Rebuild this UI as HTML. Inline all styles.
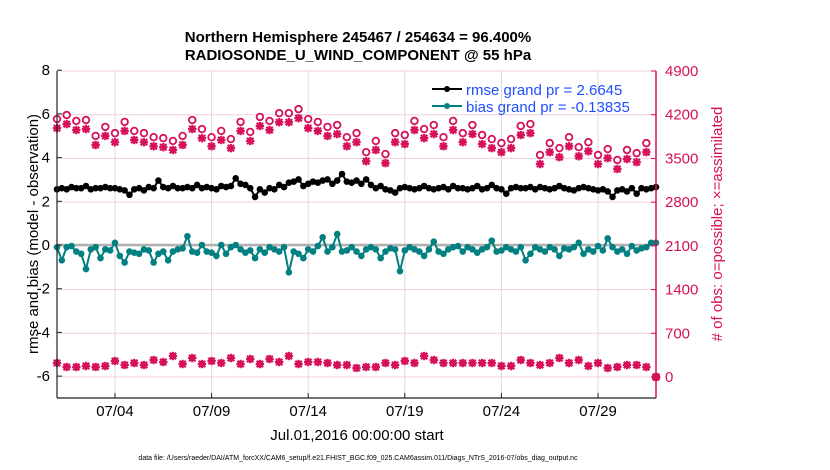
<!DOCTYPE html>
<html><head><meta charset="utf-8"><style>
body{margin:0;background:#fff;}
svg{display:block;font-family:"Liberation Sans",sans-serif;}
</style></head><body>
<svg id="chart" width="830" height="470" viewBox="0 0 830 470" xmlns="http://www.w3.org/2000/svg">
<rect width="830" height="470" fill="#fff"/>
<g id="grid"></g>
<g id="marks"></g>
<g id="axes"></g>
<text x="358" y="42" text-anchor="middle" font-size="15" font-weight="bold">Northern Hemisphere 245467 / 254634 = 96.400%</text>
<text x="358" y="60" text-anchor="middle" font-size="15" font-weight="bold">RADIOSONDE_U_WIND_COMPONENT @ 55 hPa</text>
<text transform="translate(38,234) rotate(-90)" text-anchor="middle" font-size="15">rmse and bias (model - observation)</text>
<text transform="translate(722,224) rotate(-90)" text-anchor="middle" font-size="15" fill="#d6105a"># of obs: o=possible; ×=assimilated</text>
<text x="357" y="440" text-anchor="middle" font-size="15">Jul.01,2016 00:00:00 start</text>
<text x="358" y="460" text-anchor="middle" font-size="7">data file: /Users/raeder/DAI/ATM_forcXX/CAM6_setup/f.e21.FHIST_BGC.f09_025.CAM6assim.011/Diags_NTrS_2016-07/obs_diag_output.nc</text>
<g>
  <line x1="432" y1="89" x2="462" y2="89" stroke="#000" stroke-width="2"/>
  <circle cx="447" cy="89" r="3" fill="#000"/>
  <text x="466" y="95" font-size="15" fill="#1f4fff">rmse grand pr = 2.6645</text>
  <line x1="432" y1="106" x2="462" y2="106" stroke="#008080" stroke-width="2"/>
  <circle cx="447" cy="106" r="3" fill="#008080"/>
  <text x="466" y="112" font-size="15" fill="#1f4fff">bias grand pr = -0.13835</text>
</g>
</svg>
<script>
const xTickLabels = ["07/04","07/09","07/14","07/19","07/24","07/29"];
const xTickDays = [3,8,13,18,23,28];
const leftTicks = [8,6,4,2,0,-2,-4,-6];
const rightTicks = [4900,4200,3500,2800,2100,1400,700,0];
const rmse = [2.55,2.6,2.55,2.65,2.6,2.6,2.7,2.55,2.6,2.6,
2.65,2.6,2.6,2.55,2.5,2.3,2.55,2.6,2.5,2.65,
2.6,2.95,2.65,2.6,2.7,2.6,2.6,2.65,2.6,2.75,
2.6,2.65,2.6,2.55,2.7,2.65,2.7,3.05,2.8,2.75,
2.6,2.2,2.55,2.4,2.6,2.55,2.75,2.65,2.85,2.9,
3.0,2.7,2.8,2.9,2.85,2.95,3.0,2.8,2.95,3.25,
2.9,2.85,2.95,2.8,3.0,2.75,2.6,2.7,2.55,2.5,
2.4,2.6,2.65,2.6,2.55,2.6,2.7,2.6,2.55,2.6,
2.65,2.55,2.7,2.6,2.6,2.55,2.6,2.7,2.55,2.6,
2.75,2.6,2.55,2.35,2.6,2.65,2.6,2.6,2.65,2.55,
2.65,2.6,2.55,2.6,2.7,2.6,2.55,2.5,2.6,2.65,
2.6,2.55,2.5,2.55,2.45,2.2,2.5,2.55,2.45,2.6,
2.35,2.6,2.55,2.6,2.65];
const bias = [-0.1,-0.7,-0.1,-0.05,-0.3,-0.4,-1.1,-0.2,-0.1,-0.6,
-0.2,-0.25,0.1,-0.5,-0.8,-0.3,-0.35,-0.4,-0.2,-0.25,
-0.8,-0.4,-0.3,-0.7,-0.3,-0.2,-0.15,0.4,-0.3,-0.35,
0.0,-0.3,-0.35,-0.5,0.0,-0.4,-0.1,0.0,-0.2,-0.35,
-0.25,-0.6,-0.2,-0.35,-0.1,-0.2,-0.3,-0.1,-1.25,-0.3,
-0.4,-0.6,-0.2,-0.3,-0.05,0.35,-0.3,-0.1,0.5,-0.3,
-0.25,-0.1,-0.3,-0.5,-0.2,-0.1,-0.2,-0.6,-0.3,-0.15,
-0.2,-1.2,-0.25,-0.1,-0.2,-0.3,-0.5,-0.2,0.15,-0.3,
-0.4,-0.2,-0.1,-0.05,-0.3,-0.1,-0.2,-0.35,-0.2,-0.1,
0.2,-0.3,-0.25,-0.1,-0.2,-0.3,-0.1,-0.7,-0.4,-0.1,
-0.2,-0.3,-0.1,-0.2,-0.5,-0.15,-0.2,-0.1,0.1,-0.4,
-0.2,-0.3,-0.05,-0.25,0.3,-0.1,-0.3,-0.2,-0.4,-0.05,
-0.25,-0.15,-0.1,0.1,0.1];
const possibleTop = [4130,4195,4100,4115,3860,4005,3905,4085,3940,3905,3840,3825,3780,3860,4115,3970,3840,3940,3810,4085,3925,4165,
4100,4225,4225,4290,4130,4085,4005,4035,3840,3905,3600,3780,3570,3905,3875,4100,3970,4035,3840,4100,
3905,4035,3875,3810,3745,3810,4020,4050,3555,3745,3665,3840,3680,3760,3555,3650,3475,3635,3585,3745,0];
const assimilatedTop = [3985,4050,3955,3970,3715,3860,3760,3940,3795,3760,3695,3680,3635,3715,3970,3825,3695,3795,3665,3940,3780,4020,
3955,4080,4080,4145,3985,3940,3860,3890,3695,3760,3455,3635,3425,3760,3730,3955,3825,3890,3695,3955,
3760,3890,3730,3665,3600,3665,3875,3905,3410,3600,3520,3695,3535,3615,3410,3505,3330,3490,3440,3600,0];
const bottomCounts = [224,160,160,176,160,176,256,192,224,192,272,240,336,208,304,208,256,224,304,208,288,208,288,240,336,208,240,240,224,192,192,
144,160,160,224,192,256,224,336,272,224,224,224,224,224,224,176,176,272,224,192,224,304,224,272,176,224,144,160,192,192,160,0];

const NS='http://www.w3.org/2000/svg';
const X0=57, X1=656, YT=71, YB=398;
const DAYS=31;
function xScale(d){return X0+(X1-X0)*d/DAYS;}
function yLeft(v){return 245 - v*21.85;}
function yRight(c){return 377 - c*306/4900;}
function mk(tag,attrs,parent){const e=document.createElementNS(NS,tag);for(const k in attrs)e.setAttribute(k,attrs[k]);parent.appendChild(e);return e;}
const grid=document.getElementById('grid'), marks=document.getElementById('marks'), axes=document.getElementById('axes');
const PINK='#d6105a', TEAL='#008080';

xTickDays.forEach((d,i)=>{const l=mk('line',{x1:xScale(d),x2:xScale(d),y1:YT,y2:YB,stroke:'#dcdcdc','stroke-width':1},grid);

});
rightTicks.forEach(c=>{const l=mk('line',{x1:X0,x2:X1,y1:yRight(c),y2:yRight(c),stroke:'#f2d0dc','stroke-width':1},grid);

});
const zl=mk('line',{x1:X0,x2:X1,y1:yLeft(0),y2:yLeft(0),stroke:'#b0b0b0','stroke-width':2.5},grid);



function series(vals,color,name,step){
  const pts=vals.map((v,i)=>xScale(i*step).toFixed(1)+','+yLeft(v).toFixed(1)).join(' ');
  const pl=mk('polyline',{points:pts,fill:'none',stroke:color,'stroke-width':2},marks);
  
  
  vals.forEach((v,i)=>{const c=mk('circle',{cx:xScale(i*step),cy:yLeft(v),r:3.3,fill:color},marks);
  
  });
}
function asterisk(x,y,name){
  const g=mk('g',{stroke:PINK,'stroke-width':2.2},marks);
  
  
  const r=4.2,q=3.2;
  mk('line',{x1:x-r,x2:x+r,y1:y,y2:y},g);
  mk('line',{x1:x,x2:x,y1:y-r,y2:y+r},g);
  mk('line',{x1:x-q,x2:x+q,y1:y-q,y2:y+q},g);
  mk('line',{x1:x-q,x2:x+q,y1:y+q,y2:y-q},g);
}
possibleTop.forEach((c,i)=>{const x=xScale(i*0.5);
  const o=mk('circle',{cx:x,cy:yRight(c),r:3.3,fill:'#fff',stroke:PINK,'stroke-width':1.8},marks);
  
  });
assimilatedTop.forEach((c,i)=>asterisk(xScale(i*0.5),yRight(c),'assimilated-obs-point'));
bottomCounts.forEach((c,i)=>{const x=xScale(i*0.5);
  const o=mk('circle',{cx:x,cy:yRight(c),r:2.5,fill:PINK,stroke:PINK,'stroke-width':1.5},marks);
  
  
  asterisk(x,yRight(c),'bottom-assimilated-point');});
series(rmse,'#000','rmse',0.25);
series(bias,TEAL,'bias',0.25);

const la=mk('line',{x1:X0,x2:X0,y1:YT,y2:YB,stroke:'#222','stroke-width':1.2},axes);


const ba=mk('line',{x1:X0,x2:X1,y1:YB,y2:YB,stroke:'#222','stroke-width':1.2},axes);


const ra=mk('line',{x1:X1,x2:X1,y1:YT,y2:YB,stroke:PINK,'stroke-width':1.5},axes);


leftTicks.forEach(v=>{const y=yLeft(v);
  mk('line',{x1:X0,x2:X0+5,y1:y,y2:y,stroke:'#222'},axes);
  const t=mk('text',{x:X0-7,y:y+5,'text-anchor':'end','font-size':15},axes);t.textContent=v;
  
  });
rightTicks.forEach(c=>{const y=yRight(c);
  mk('line',{x1:X1-5,x2:X1,y1:y,y2:y,stroke:PINK},axes);
  const t=mk('text',{x:X1+9,y:y+5,'font-size':15,fill:PINK},axes);t.textContent=c;
  
  });
xTickDays.forEach((d,i)=>{const x=xScale(d);
  mk('line',{x1:x,x2:x,y1:YB,y2:YB-5,stroke:'#222'},axes);
  const t=mk('text',{x:x,y:YB+18,'text-anchor':'middle','font-size':15},axes);t.textContent=xTickLabels[i];
  
  });
</script>
</body></html>
